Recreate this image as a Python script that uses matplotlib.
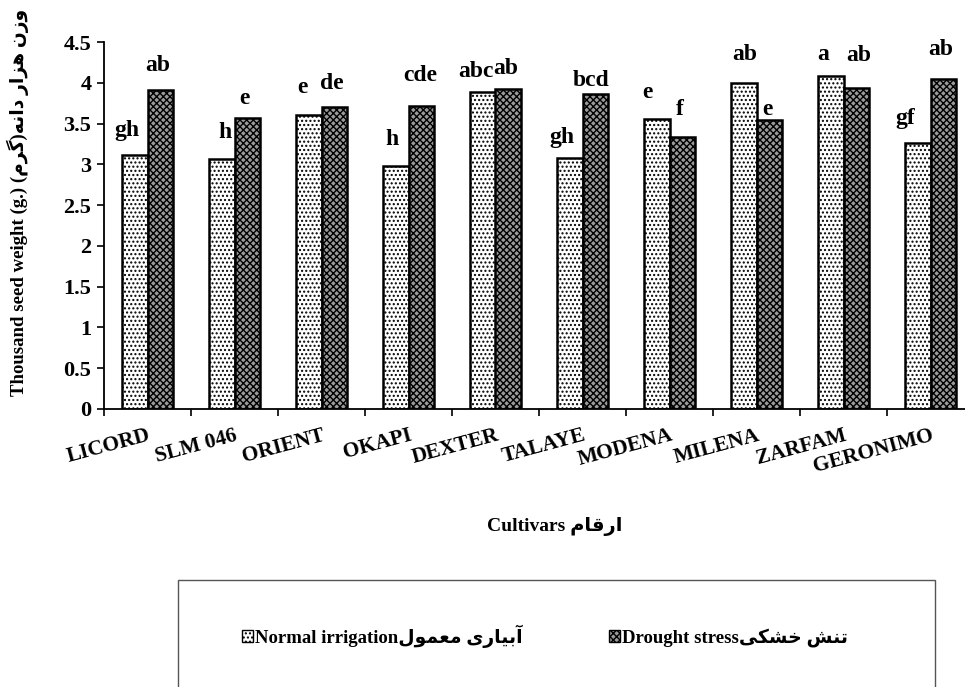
import matplotlib
matplotlib.use('Agg')
import matplotlib.pyplot as plt
from matplotlib.patches import Patch, Rectangle
import numpy as np

# data
cultivars = ['LICORD', 'SLM 046', 'ORIENT', 'OKAPI', 'DEXTER',
             'TALAYE', 'MODENA', 'MILENA', 'ZARFAM', 'GERONIMO']
normal = [3.11, 3.06, 3.61, 2.98, 3.89, 3.08, 3.56, 4.00, 4.08, 3.26]
drought = [3.91, 3.57, 3.70, 3.71, 3.92, 3.86, 3.34, 3.54, 3.94, 4.05]
letters_normal = ['gh', 'h', 'e', 'h', 'abc', 'gh', 'e', 'ab', 'a', 'gf']
letters_drought = ['ab', 'e', 'de', 'cde', 'ab', 'bcd', 'f', 'e', 'ab', 'ab']

# hand placed letter nudges (pixels) as in the original
dx_n = [-8, 3, -6, -4, -7, -8, -9, 1, -8, -13]
dy_n = [25, 27, 27, 26, 20, 20, 26, 28, 22, 25]
dx_d = [-2, -3, -2, -1, -2, -4, -2, -2, 3, -2]
dy_d = [25, 19, 24, 31, 21, 14, 27, 11, 32, 29]

# persian letters -> presentation forms (iso, fin, ini, med)
FORMS = {
    'ا': ('\uFE8D', '\uFE8E', None, None),
    'آ': ('\uFE81', '\uFE82', None, None),
    'ب': ('\uFE8F', '\uFE90', '\uFE91', '\uFE92'),
    'ت': ('\uFE95', '\uFE96', '\uFE97', '\uFE98'),
    'خ': ('\uFEA5', '\uFEA6', '\uFEA7', '\uFEA8'),
    'د': ('\uFEA9', '\uFEAA', None, None),
    'ر': ('\uFEAD', '\uFEAE', None, None),
    'ز': ('\uFEAF', '\uFEB0', None, None),
    'ش': ('\uFEB5', '\uFEB6', '\uFEB7', '\uFEB8'),
    'ع': ('\uFEC9', '\uFECA', '\uFECB', '\uFECC'),
    'ق': ('\uFED5', '\uFED6', '\uFED7', '\uFED8'),
    'ل': ('\uFEDD', '\uFEDE', '\uFEDF', '\uFEE0'),
    'م': ('\uFEE1', '\uFEE2', '\uFEE3', '\uFEE4'),
    'ن': ('\uFEE5', '\uFEE6', '\uFEE7', '\uFEE8'),
    'ه': ('\uFEE9', '\uFEEA', '\uFEEB', '\uFEEC'),
    'و': ('\uFEED', '\uFEEE', None, None),
    'ی': ('\uFBFC', '\uFBFD', '\uFBFE', '\uFBFF'),
    'ک': ('\uFB8E', '\uFB8F', '\uFB90', '\uFB91'),
    'گ': ('\uFB92', '\uFB93', '\uFB94', '\uFB95'),
}


def fa(s):
    out = []
    for i, ch in enumerate(s):
        if ch not in FORMS:
            out.append(ch)
            continue
        prev = s[i - 1] if i > 0 else ''
        nxt = s[i + 1] if i + 1 < len(s) else ''
        jp = prev in FORMS and FORMS[prev][2] is not None
        jn = FORMS[ch][2] is not None and nxt in FORMS
        iso, fin, ini, med = FORMS[ch]
        out.append(med if (jp and jn) else fin if jp else ini if jn else iso)
    mirror = {'(': ')', ')': '('}
    return ''.join(mirror.get(c, c) for c in reversed(out))


plt.rcParams['font.family'] = ['Liberation Serif', 'DejaVu Sans']
plt.rcParams['font.weight'] = 'bold'
plt.rcParams['hatch.linewidth'] = 1.0

W, H = 965, 687
fig = plt.figure(figsize=(W / 100, H / 100), dpi=100)
ax = fig.add_axes([104 / W, 1 - 409 / H, 870 / W, 367 / H])

x = np.arange(len(cultivars))
w = 0.29
b1 = ax.bar(x - w / 2, normal, w, color='white', edgecolor='black',
            linewidth=1.8, hatch='....')
b2 = ax.bar(x + w / 2, drought, w, color='#9a9a9a', edgecolor='black',
            linewidth=1.8, hatch='xxxxx')

for i in range(len(cultivars)):
    ax.annotate(letters_normal[i], (x[i] - w / 2, normal[i]),
                xytext=(dx_n[i], dy_n[i]), textcoords='offset pixels',
                ha='center', va='center', fontsize=17, fontweight='bold')
    ax.annotate(letters_drought[i], (x[i] + w / 2, drought[i]),
                xytext=(dx_d[i], dy_d[i]), textcoords='offset pixels',
                ha='center', va='center', fontsize=17, fontweight='bold')

ax.set_xlim(-0.5, len(cultivars) - 0.5)
ax.set_ylim(0, 4.5)
ax.set_yticks(np.arange(0, 4.51, 0.5))
ax.set_yticklabels(['0', '0.5', '1', '1.5', '2', '2.5', '3', '3.5', '4', '4.5'],
                   fontsize=16, fontweight='bold')
ax.set_xticks(x)
ax.set_xticklabels(cultivars, fontsize=15.5, fontweight='bold', rotation=15,
                   ha='right', va='top', rotation_mode='anchor')
ax.set_xticks(np.arange(-0.5, len(cultivars), 1), minor=True)
ax.tick_params(axis='x', which='major', length=0, pad=12)
ax.tick_params(axis='x', which='minor', length=5, width=1.2, direction='out')
ax.tick_params(axis='y', length=5, width=1.2, direction='out', pad=4)
for s in ['top', 'right']:
    ax.spines[s].set_visible(False)
for s in ['left', 'bottom']:
    ax.spines[s].set_linewidth(1.3)

fig.text(18 / W, 1 - 202 / H, 'Thousand seed weight (g.) ' + fa('وزن هزار دانه(گرم)'),
         rotation=90, ha='center', va='center', fontsize=13.5, fontweight='bold')
fig.text(555 / W, 1 - 527 / H, 'Cultivars ' + fa('ارقام'),
         ha='center', va='center', fontsize=14, fontweight='bold')

# legend box, runs off the bottom of the image
fig.patches.append(Rectangle((178 / W, -0.05), (935 - 178) / W, 0.05 + (1 - 580 / H),
                             transform=fig.transFigure, facecolor='none',
                             edgecolor='#555555', linewidth=1.0))
handles = [Patch(facecolor='white', edgecolor='black', hatch='....', linewidth=1.0),
           Patch(facecolor='#9a9a9a', edgecolor='black', hatch='xxxxx', linewidth=1.0)]
labels = ['Normal irrigation' + fa('آبیاری معمول'),
          'Drought stress' + fa('تنش خشکی')]
fig.legend(handles, labels, loc='center', bbox_to_anchor=(545 / W, 1 - 636 / H),
           ncol=2, frameon=False, handlelength=0.6, handleheight=0.6,
           handletextpad=0.1, columnspacing=4.6,
           prop={'size': 13.5, 'weight': 'bold'})

fig.savefig('out.png', dpi=100)
